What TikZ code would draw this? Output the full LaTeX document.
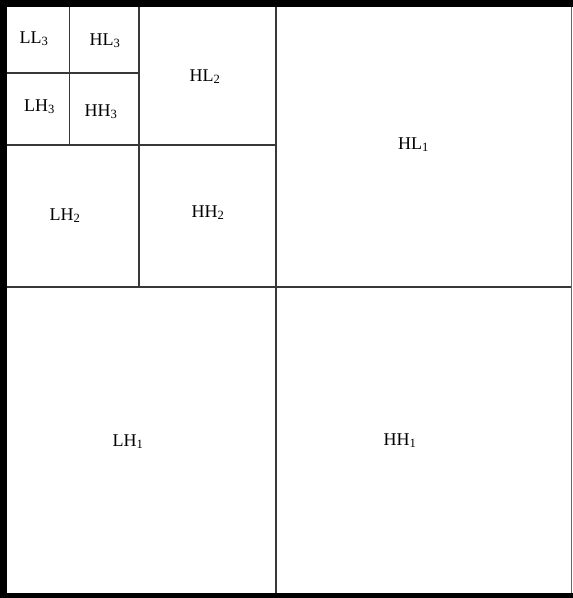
\documentclass[tikz,border=0pt]{standalone}
\usepackage{fontspec}
\setmainfont{Liberation Serif}
\usepackage{tikz}

\begin{document}
\begin{tikzpicture}[x=1pt, y=-1pt,
    band/.style={fill=black},
    edgeline/.style={draw=black!60, line width=1.5pt},
    divider/.style={draw=black!78, line width=1.6pt},
    band_label/.style={font=\fontsize{18}{20}\selectfont, anchor=base, inner sep=0pt}
  ]
    \useasboundingbox (0,0) rectangle (573,598);
    \fill[white] (0,0) rectangle (573,598);

    \fill[band] (0,0) rectangle (573,7);
    \fill[band] (0,0) rectangle (7,598);
    \fill[band] (0,593) rectangle (573,598);
    \draw[edgeline] (571.5,7) -- (571.5,593);

    \coordinate (top1)   at (276,7);
    \coordinate (bot1)   at (276,593);
    \coordinate (left1)  at (7,287);
    \coordinate (right1) at (571,287);
    \coordinate (top2)   at (139,7);
    \coordinate (bot2)   at (139,287);
    \coordinate (left2)  at (7,145);
    \coordinate (right2) at (276,145);
    \coordinate (top3)   at (69.5,7);
    \coordinate (bot3)   at (69.5,145);
    \coordinate (left3)  at (7,73);
    \coordinate (right3) at (139,73);

    \draw[divider] (top1) -- (bot1);
    \draw[divider] (left1) -- (right1);
    \draw[divider] (top2) -- (bot2);
    \draw[divider] (left2) -- (right2);
    \draw[divider] (top3) -- (bot3);
    \draw[divider] (left3) -- (right3);

    \node[band_label] (ll3) at (34,43)   {LL\textsubscript{3}};
    \node[band_label] (hl3) at (105,45)  {HL\textsubscript{3}};
    \node[band_label] (lh3) at (39.5,111) {LH\textsubscript{3}};
    \node[band_label] (hh3) at (101,116) {HH\textsubscript{3}};
    \node[band_label] (hl2) at (205,81)  {HL\textsubscript{2}};
    \node[band_label] (lh2) at (65,220)  {LH\textsubscript{2}};
    \node[band_label] (hh2) at (208,217) {HH\textsubscript{2}};
    \node[band_label] (hl1) at (413.5,149) {HL\textsubscript{1}};
    \node[band_label] (lh1) at (128,446) {LH\textsubscript{1}};
    \node[band_label] (hh1) at (400,445) {HH\textsubscript{1}};
  \end{tikzpicture}
\end{document}
